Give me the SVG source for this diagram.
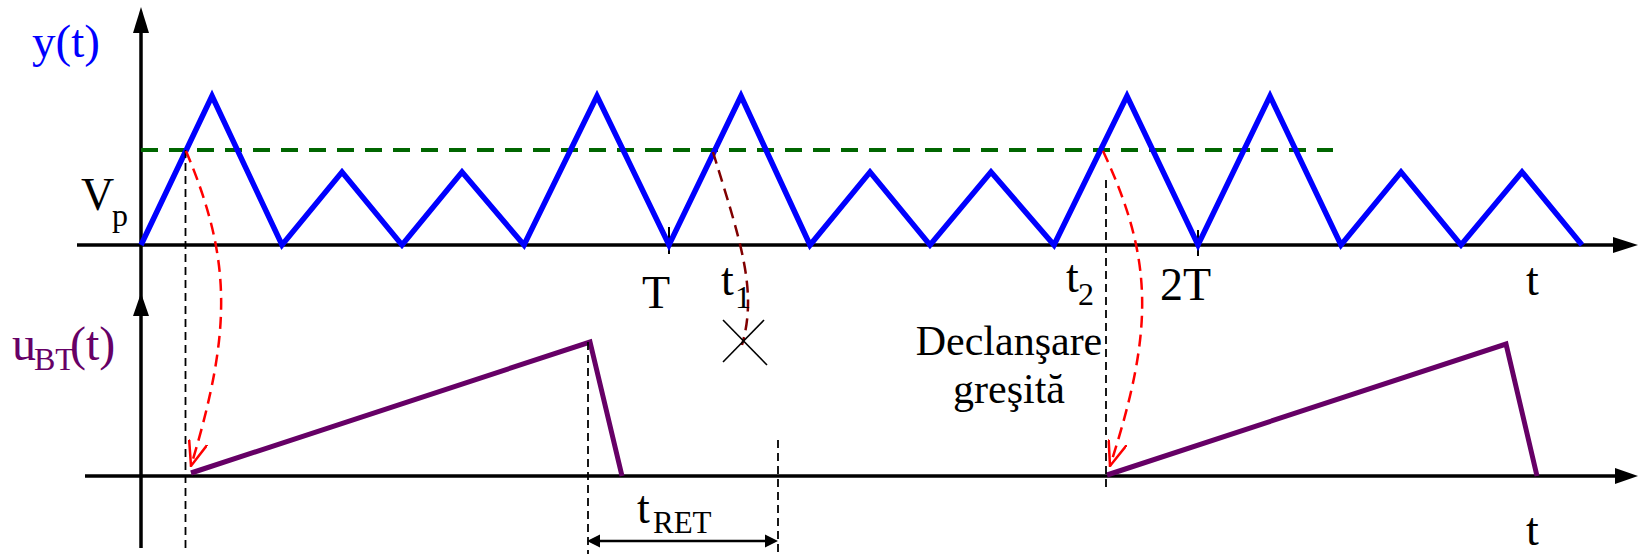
<svg xmlns="http://www.w3.org/2000/svg" width="1639" height="554" viewBox="0 0 1639 554">
<style>
.lbl{font-size:46px;fill:#000;}
.sub{font-size:32px;fill:#000;}
.axis{stroke:#000;stroke-width:3.5;fill:none;}
.tick{stroke:#000;stroke-width:2;}
.guide{stroke:#000;stroke-width:1.8;stroke-dasharray:8 5;fill:none;}
.wave{stroke:#0000ff;stroke-width:5.5;fill:none;stroke-linejoin:miter;}
.ramp{stroke:#660066;stroke-width:5;fill:none;}
.thr{stroke:#006600;stroke-width:4;stroke-dasharray:17 11;fill:none;}
.trig{stroke:#ff0000;stroke-width:2.5;stroke-dasharray:12 7;fill:none;}
.miss{stroke:#800000;stroke-width:2.5;stroke-dasharray:12 7;fill:none;}
</style>
<defs>
<marker id="openArrow" markerUnits="userSpaceOnUse" viewBox="0 0 26 20" markerWidth="26" markerHeight="20" refX="25" refY="10" orient="auto">
<path d="M0,0.5 L25,10 L0,19.5" fill="none" stroke="#ff0000" stroke-width="2.5" stroke-dasharray="none"/>
</marker>
</defs>

<g id="axes">
<line class="axis" x1="141" y1="28" x2="141" y2="548"/>
<polygon points="141,7 133,33 149,33" fill="#000"/>
<polygon points="141,293 133,316 149,316" fill="#000"/>
<line class="axis" x1="77" y1="245" x2="1616" y2="245"/>
<polygon points="1638,245 1613,237 1613,253" fill="#000"/>
<line class="axis" x1="85" y1="476" x2="1618" y2="476"/>
<polygon points="1638,476 1615,468 1615,484" fill="#000"/>
<line class="tick" x1="669" y1="227" x2="669" y2="254"/>
<line class="tick" x1="1198" y1="230" x2="1198" y2="256"/>
</g>

<g id="threshold">
<line class="thr" x1="141" y1="150" x2="1333" y2="150"/>
</g>

<g id="signal-y">
<polyline class="wave" points="141,245 212,96 282,245 342,172 402,245 462,172 524,245 597,96 669,245 741,96 810,245 870,172 930,245 991,172 1054,245 1127,96 1198,245 1270,96 1341,245 1401,172 1461,245 1522,172 1582,245"/>
</g>

<g id="signal-u">
<polyline class="ramp" points="191,473 590,342 622,476"/>
<polyline class="ramp" points="1107,475 1506,344 1537,476"/>
</g>

<g id="connectors">
<line class="guide" x1="185.5" y1="150" x2="185.5" y2="552"/>
<line class="guide" x1="588" y1="342" x2="588" y2="554"/>
<line class="guide" x1="778" y1="440" x2="778" y2="554"/>
<line class="guide" x1="1106" y1="180" x2="1106" y2="492"/>
<path class="trig" d="M186,151 C232,260 232,330 191,466" marker-end="url(#openArrow)"/>
<path class="trig" d="M1103,151 C1154,260 1154,330 1110,466" marker-end="url(#openArrow)"/>
<path class="miss" d="M713,152 C740,240 758,290 742,345"/>
<line x1="723" y1="320" x2="767" y2="365" stroke="#000" stroke-width="1.6"/>
<line x1="764" y1="320" x2="723" y2="362" stroke="#000" stroke-width="1.6"/>
<line x1="597" y1="541" x2="768" y2="541" stroke="#000" stroke-width="2.5"/>
<polygon points="587,541 600,534.5 600,547.5" fill="#000"/>
<polygon points="778,541 765,534.5 765,547.5" fill="#000"/>
</g>

<g id="labels" font-family="'Liberation Serif', 'DejaVu Serif', serif">
<text x="32" y="57" font-size="47" fill="#0000ff">y(t)</text>
<text x="81" y="210" class="lbl">V</text>
<text x="112" y="226" class="sub">p</text>
<text x="642" y="308" class="lbl">T</text>
<text x="721" y="295" class="lbl">t</text>
<text x="735" y="308" class="sub">1</text>
<text x="1066" y="292" class="lbl">t</text>
<text x="1078" y="305" class="sub">2</text>
<text x="1160" y="300" class="lbl">2T</text>
<text x="1526" y="295" class="lbl">t</text>
<text x="1526" y="545" class="lbl">t</text>
<text x="12" y="360" font-size="48" fill="#660066">u</text>
<text x="34" y="370" font-size="32" fill="#660066">BT</text>
<text x="70" y="360" font-size="48" fill="#660066">(t)</text>
<text x="1009" y="355" text-anchor="middle" font-size="42" fill="#000">Declanşare</text>
<text x="1009" y="403" text-anchor="middle" font-size="42" fill="#000">greşită</text>
<text x="637" y="523" class="lbl">t</text>
<text x="653" y="533" font-size="31" fill="#000">RET</text>
</g>
</svg>
